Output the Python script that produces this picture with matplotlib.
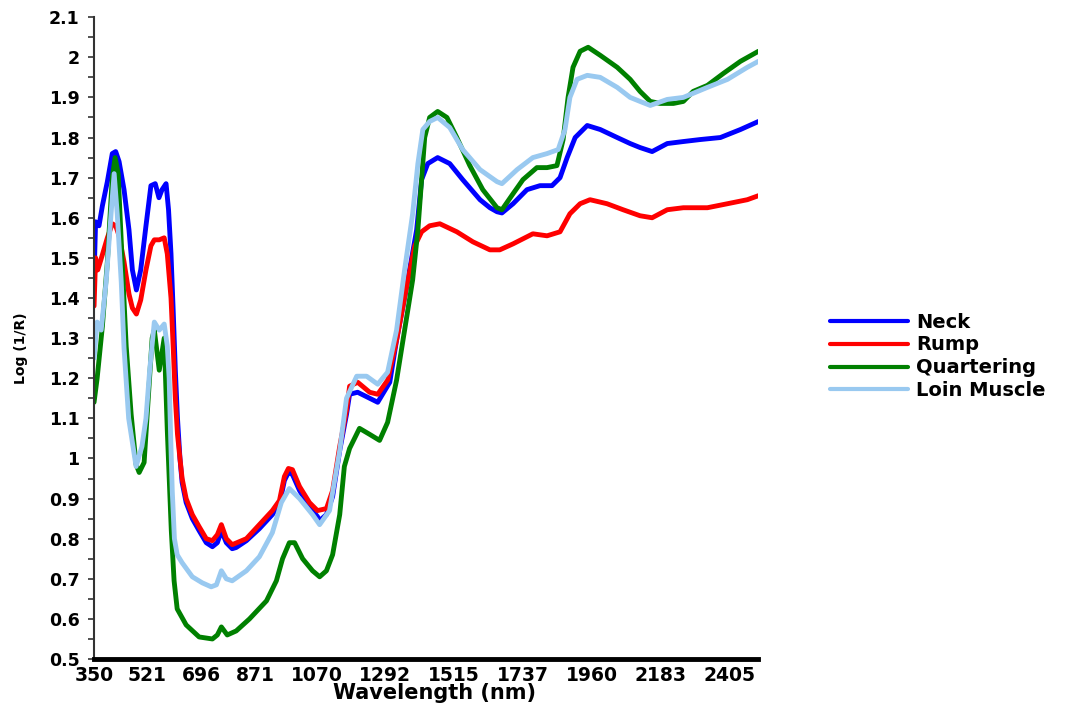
import numpy as np
import matplotlib
matplotlib.use("Agg")
import matplotlib.pyplot as plt
from matplotlib.ticker import FixedLocator, MultipleLocator, FuncFormatter

# Mean Vis-NIR spectra, log(1/R), for four beef cuts
neck_nm = [350, 355, 366, 377, 393, 409, 420, 431, 447, 463, 474, 487, 501, 518, 534, 548, 560,
           570, 583, 591, 599, 606, 613, 620, 628, 635, 648, 668, 690, 713, 733, 749, 762, 778,
           797, 810, 843, 885, 927, 950, 966, 979, 992, 1015, 1047, 1073, 1080, 1102, 1122, 1145,
           1167, 1177, 1203, 1268, 1307, 1329, 1362, 1394, 1410, 1430, 1462, 1501, 1543, 1599,
           1631, 1654, 1670, 1706, 1751, 1793, 1832, 1858, 1881, 1907, 1946, 1988, 2043, 2085,
           2117, 2156, 2205, 2257, 2312, 2377, 2442, 2500]
neck_val = [1.45, 1.59, 1.58, 1.63, 1.69, 1.76, 1.765, 1.74, 1.67, 1.57, 1.47, 1.42, 1.47, 1.58,
            1.68, 1.685, 1.65, 1.67, 1.685, 1.62, 1.51, 1.37, 1.22, 1.10, 1.00, 0.94, 0.89, 0.85,
            0.82, 0.79, 0.78, 0.79, 0.82, 0.79, 0.775, 0.778, 0.795, 0.825, 0.86, 0.885, 0.945,
            0.965, 0.96, 0.92, 0.88, 0.855, 0.845, 0.86, 0.905, 1.02, 1.11, 1.16, 1.165, 1.14,
            1.19, 1.295, 1.43, 1.57, 1.695, 1.735, 1.75, 1.735, 1.695, 1.645, 1.625, 1.615, 1.612,
            1.635, 1.67, 1.68, 1.68, 1.70, 1.75, 1.80, 1.83, 1.82, 1.80, 1.785, 1.775, 1.765,
            1.785, 1.79, 1.795, 1.80, 1.82, 1.84]

rump_nm = [350, 355, 362, 372, 393, 409, 420, 431, 447, 463, 474, 487, 501, 518, 534, 545, 561,
           577, 587, 599, 606, 613, 620, 628, 635, 648, 668, 690, 713, 733, 749, 762, 778, 797,
           843, 885, 927, 950, 966, 979, 992, 1015, 1047, 1073, 1102, 1122, 1145, 1167, 1177,
           1203, 1242, 1268, 1300, 1329, 1362, 1388, 1410, 1436, 1469, 1524, 1576, 1631, 1663,
           1706, 1770, 1816, 1858, 1890, 1923, 1955, 2010, 2062, 2117, 2156, 2205, 2257, 2335,
           2400, 2464, 2500]
rump_val = [1.38, 1.50, 1.47, 1.495, 1.55, 1.585, 1.58, 1.555, 1.49, 1.41, 1.375, 1.36, 1.395,
            1.47, 1.53, 1.545, 1.545, 1.55, 1.51, 1.40, 1.28, 1.15, 1.06, 1.00, 0.95, 0.90,
            0.86, 0.83, 0.80, 0.795, 0.81, 0.835, 0.80, 0.785, 0.80, 0.835, 0.87, 0.895, 0.955,
            0.975, 0.972, 0.93, 0.89, 0.87, 0.875, 0.92, 1.03, 1.12, 1.18, 1.19, 1.165, 1.16,
            1.195, 1.295, 1.43, 1.53, 1.565, 1.58, 1.585, 1.565, 1.54, 1.52, 1.52, 1.535, 1.56,
            1.555, 1.565, 1.61, 1.635, 1.645, 1.635, 1.62, 1.605, 1.60, 1.62, 1.625, 1.625,
            1.635, 1.645, 1.655]

quart_nm = [350, 360, 377, 393, 409, 418, 428, 441, 454, 470, 486, 496, 512, 522, 538, 545, 561,
            577, 587, 600, 609, 619, 648, 690, 733, 749, 762, 781, 810, 853, 908, 940, 960, 982,
            999, 1025, 1057, 1080, 1102, 1122, 1145, 1160, 1177, 1209, 1242, 1274, 1300, 1329,
            1355, 1381, 1398, 1410, 1420, 1436, 1462, 1492, 1524, 1566, 1608, 1654, 1670, 1706,
            1738, 1783, 1816, 1848, 1868, 1884, 1900, 1923, 1949, 1988, 2043, 2085, 2117, 2150,
            2182, 2225, 2257, 2289, 2335, 2387, 2442, 2500]
quart_val = [1.14, 1.20, 1.33, 1.49, 1.70, 1.75, 1.71, 1.49, 1.28, 1.11, 0.985, 0.965, 0.99,
             1.11, 1.30, 1.32, 1.22, 1.30, 1.07, 0.82, 0.695, 0.625, 0.585, 0.555, 0.55, 0.56,
             0.58, 0.56, 0.57, 0.60, 0.645, 0.695, 0.75, 0.79, 0.79, 0.75, 0.72, 0.705, 0.72,
             0.76, 0.86, 0.98, 1.025, 1.075, 1.06, 1.045, 1.09, 1.195, 1.32, 1.445, 1.57, 1.695,
             1.80, 1.85, 1.865, 1.85, 1.80, 1.73, 1.67, 1.625, 1.62, 1.66, 1.695, 1.725, 1.725,
             1.73, 1.795, 1.90, 1.975, 2.015, 2.025, 2.005, 1.975, 1.945, 1.915, 1.89, 1.885,
             1.885, 1.89, 1.915, 1.93, 1.96, 1.99, 2.015]

loin_nm = [350, 360, 373, 389, 405, 415, 425, 438, 447, 462, 486, 505, 518, 530, 545, 561, 577,
           587, 593, 598, 603, 610, 619, 635, 668, 700, 729, 746, 762, 778, 797, 843, 885, 927,
           956, 982, 1015, 1057, 1080, 1112, 1145, 1167, 1200, 1232, 1268, 1300, 1329, 1355,
           1381, 1398, 1414, 1436, 1462, 1501, 1543, 1599, 1654, 1670, 1719, 1770, 1816, 1852,
           1874, 1890, 1913, 1946, 1988, 2043, 2085, 2117, 2150, 2205, 2257, 2335, 2400, 2464,
           2500]
loin_val = [1.25, 1.34, 1.32, 1.44, 1.61, 1.71, 1.61, 1.44, 1.275, 1.10, 0.98, 1.03, 1.10, 1.22,
            1.34, 1.32, 1.335, 1.28, 1.20, 1.05, 0.92, 0.80, 0.76, 0.74, 0.705, 0.69, 0.68,
            0.685, 0.72, 0.70, 0.695, 0.72, 0.755, 0.815, 0.89, 0.925, 0.90, 0.86, 0.835, 0.87,
            1.02, 1.15, 1.205, 1.205, 1.185, 1.215, 1.32, 1.47, 1.61, 1.735, 1.82, 1.84, 1.85,
            1.825, 1.77, 1.72, 1.69, 1.685, 1.72, 1.75, 1.76, 1.77, 1.82, 1.90, 1.945, 1.955,
            1.95, 1.925, 1.90, 1.89, 1.88, 1.895, 1.90, 1.925, 1.945, 1.975, 1.99]

labels = ["Neck", "Rump", "Quartering", "Loin Muscle"]
colors = ["#0000FF", "#FF0000", "#008000", "#99C9F0"]
x_ticks = [350, 521, 696, 871, 1070, 1292, 1515, 1737, 1960, 2183, 2405]

plt.rcParams["font.family"] = ["DejaVu Sans"]
plt.rcParams["font.weight"] = "bold"

fig = plt.figure(figsize=(10.75, 7.10), dpi=100)
ax = fig.add_axes([0.0875, 0.0718, 0.618, 0.904])

series = [(neck_nm, neck_val), (rump_nm, rump_val), (quart_nm, quart_val), (loin_nm, loin_val)]
for (wl, val), lab, col in zip(series, labels, colors):
    ax.plot(wl, val, color=col, lw=3.5, label=lab, solid_joinstyle="round",
            solid_capstyle="round")

ax.set_xlim(350, 2500)
ax.set_ylim(0.5, 2.1)

ax.xaxis.set_major_locator(FixedLocator(x_ticks))
ax.tick_params(axis="x", length=0, pad=5, labelsize=13.5)
for t in ax.get_xticklabels():
    t.set_fontweight("bold")

ax.yaxis.set_major_locator(MultipleLocator(0.1))
ax.yaxis.set_minor_locator(MultipleLocator(0.05))
ax.yaxis.set_major_formatter(FuncFormatter(lambda v, p: f"{round(v, 2):g}"))
ax.tick_params(axis="y", which="both", direction="out", length=4, width=1.2,
               color="#333333", pad=6.5, labelsize=12.5)

for side in ("top", "right"):
    ax.spines[side].set_visible(False)
ax.spines["bottom"].set_linewidth(3.5)
ax.spines["left"].set_linewidth(1.5)
ax.spines["left"].set_color("#333333")

ax.set_xlabel("Wavelength (nm)", fontsize=15, fontweight="bold")
ax.xaxis.set_label_coords(0.513, -0.053)
ax.xaxis.label.set_va("center")
ax.set_ylabel("Log (1/R)", fontsize=10, fontweight="bold")
ax.yaxis.set_label_coords(-0.11, 0.484)
ax.yaxis.label.set_va("center")

leg = fig.legend(loc="center left", bbox_to_anchor=(0.772, 0.498), frameon=False,
                 fontsize=14, handlelength=4.0, handletextpad=0.45, labelspacing=0.2,
                 borderaxespad=0, borderpad=0)
for line in leg.get_lines():
    line.set_linewidth(3.0)

fig.savefig("out.png", dpi=100)
